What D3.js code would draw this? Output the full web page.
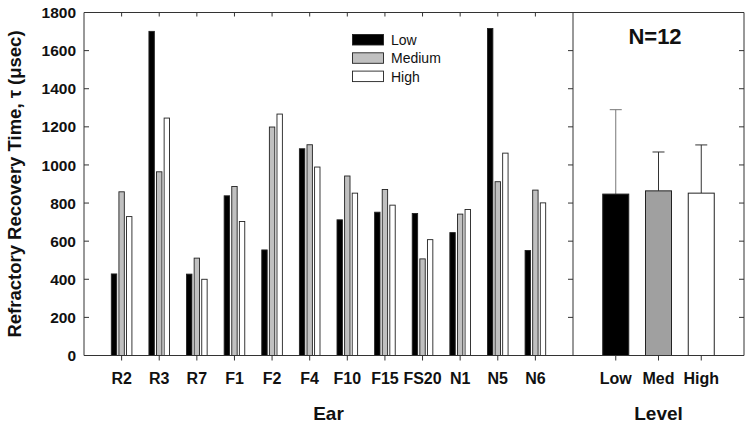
<!DOCTYPE html>
<html><head><meta charset="utf-8">
<script src="https://cdn.jsdelivr.net/npm/d3@7"></script>
<style>body{margin:0;background:#fff}svg{display:block}text{font-family:Arial,"Liberation Sans",sans-serif}</style>
</head><body><svg id="c" width="751" height="427"></svg>
<script>
const ears = ["R2","R3","R7","F1","F2","F4","F10","F15","FS20","N1","N5","N6"];
const lowVals = [428,1701,427,838,554,1085,712,752,745,645,1716,551];
const medVals = [859,964,511,887,1199,1106,942,871,507,742,912,868];
const highVals = [729,1246,400,703,1267,989,852,789,608,766,1062,801];
const levels = ["Low","Med","High"];
const levelMeans = [847,864,852];
const levelErr = [443,204,253];
const yTicks = [0,200,400,600,800,1000,1200,1400,1600,1800];
const seriesNames = ["Low","Medium","High"];
const fills = ["#000000","#c0c0c0","#ffffff"];
const fillsR = ["#000000","#a0a0a0","#ffffff"];

const svg = d3.select("#c");
const y = d3.scaleLinear().domain([0,1800]).range([355.5,12.5]);
const xL = d3.scaleLinear().domain([0,13]).range([84,573]);
const xR = d3.scaleLinear().domain([0,4]).range([573,744]);
const ax = "#333";

// bars left
const series = [lowVals, medVals, highVals];
const offs = [-7.6, 0, 7.6];
series.forEach((vals,s)=>{
  svg.append("g").selectAll("rect").data(vals).join("rect")
    .attr("x",(d,i)=>xL(i+1)+offs[s]-2.7).attr("width",5.4)
    .attr("y",d=>y(d)).attr("height",d=>y(0)-y(d))
    .attr("fill",fills[s]).attr("stroke","#222").attr("stroke-width",0.9);
});

// right panel bars and error bars
const bw = 26;
svg.append("g").selectAll("line").data(levelMeans).join("line")
  .attr("x1",(d,i)=>xR(i+1)).attr("x2",(d,i)=>xR(i+1))
  .attr("y1",d=>y(d)).attr("y2",(d,i)=>y(d+levelErr[i]))
  .attr("stroke",(d,i)=>i===0?"#777":"#333").attr("stroke-width",1);
svg.append("g").selectAll("line").data(levelMeans).join("line")
  .attr("x1",(d,i)=>xR(i+1)-6).attr("x2",(d,i)=>xR(i+1)+6)
  .attr("y1",(d,i)=>y(d+levelErr[i])).attr("y2",(d,i)=>y(d+levelErr[i]))
  .attr("stroke",(d,i)=>i===0?"#777":"#333").attr("stroke-width",1);
svg.append("g").selectAll("rect").data(levelMeans).join("rect")
  .attr("x",(d,i)=>xR(i+1)-bw/2).attr("width",bw)
  .attr("y",d=>y(d)).attr("height",d=>y(0)-y(d))
  .attr("fill",(d,i)=>fillsR[i]).attr("stroke","#222").attr("stroke-width",1);

// frames
const fr = svg.append("g").attr("stroke",ax).attr("stroke-width",1).attr("fill","none");
fr.append("path").attr("d",`M${xL(0)},${y(0)}V${y(1800)}H${xR(4)}V${y(0)}H${xL(0)}M${xR(0)},${y(1800)}V${y(0)}`);

// ticks
const inner = yTicks.filter(t=>t>0&&t<1800);
fr.selectAll(".lt").data(inner).join("line").attr("class","lt").attr("x1",xL(0)).attr("x2",xL(0)+5).attr("y1",d=>y(d)).attr("y2",d=>y(d));
fr.selectAll(".rt").data(inner).join("line").attr("class","rt").attr("x1",xR(0)-5).attr("x2",xR(0)).attr("y1",d=>y(d)).attr("y2",d=>y(d));
fr.selectAll(".rt2").data(inner).join("line").attr("class","rt2").attr("x1",xR(4)-5).attr("x2",xR(4)).attr("y1",d=>y(d)).attr("y2",d=>y(d));
fr.selectAll(".tt").data(ears).join("line").attr("class","tt").attr("x1",(d,i)=>xL(i+1)).attr("x2",(d,i)=>xL(i+1)).attr("y1",y(1800)).attr("y2",y(1800)+4);
fr.selectAll(".bt").data(ears).join("line").attr("class","bt").attr("x1",(d,i)=>xL(i+1)).attr("x2",(d,i)=>xL(i+1)).attr("y1",y(0)).attr("y2",y(0)+5);
fr.selectAll(".bt2").data(levels).join("line").attr("class","bt2").attr("x1",(d,i)=>xR(i+1)).attr("x2",(d,i)=>xR(i+1)).attr("y1",y(0)).attr("y2",y(0)+5);

// y tick labels
svg.append("g").selectAll("text").data(yTicks).join("text")
  .attr("x",76).attr("y",d=>y(d)).attr("dy","0.36em").attr("text-anchor","end")
  .attr("font-size",15.5).attr("font-weight","bold").attr("fill","#111").text(d=>d);

// x tick labels
svg.append("g").selectAll("text").data(ears).join("text")
  .attr("x",(d,i)=>xL(i+1)).attr("y",384).attr("text-anchor","middle")
  .attr("font-size",16).attr("font-weight","bold").attr("fill","#111").text(d=>d);
svg.append("g").selectAll("text").data(levels).join("text")
  .attr("x",(d,i)=>xR(i+1)).attr("y",384).attr("text-anchor","middle")
  .attr("font-size",16).attr("font-weight","bold").attr("fill","#111").text(d=>d);

// axis titles
svg.append("text").attr("x",(xL(0)+xL(13))/2).attr("y",420).attr("text-anchor","middle")
  .attr("font-size",19).attr("font-weight","bold").attr("fill","#111").text("Ear");
svg.append("text").attr("x",xR(2)).attr("y",420).attr("text-anchor","middle")
  .attr("font-size",19).attr("font-weight","bold").attr("fill","#111").text("Level");
svg.append("text").attr("transform",`translate(20.5,${(y(0)+y(1800))/2}) rotate(-90)`)
  .attr("text-anchor","middle").attr("font-size",18.5).attr("font-weight","bold").attr("fill","#111")
  .text("Refractory Recovery Time, τ (μsec)");
svg.append("text").attr("x",655).attr("y",44.3).attr("text-anchor","middle")
  .attr("font-size",22).attr("font-weight","bold").attr("fill","#111").text("N=12");

// legend
const lg = svg.append("g");
seriesNames.forEach((n,i)=>{
  lg.append("rect").attr("x",352.5).attr("y",34.5+i*18.3).attr("width",31).attr("height",10.5)
    .attr("fill",fills[i]).attr("stroke","#222").attr("stroke-width",0.9);
  lg.append("text").attr("x",391).attr("y",45+i*18.3).attr("font-size",14).attr("fill","#111").text(n);
});
</script></body></html>
